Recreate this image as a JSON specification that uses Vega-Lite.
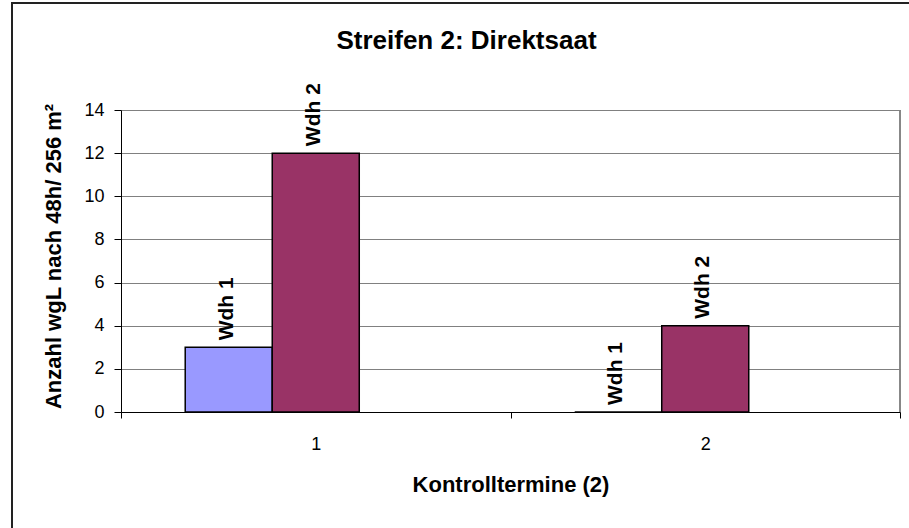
{
  "$schema": "https://vega.github.io/schema/vega-lite/v6.json",
  "width": 901,
  "height": 529,
  "padding": {"left": 12, "top": 3, "right": -4, "bottom": -4},
  "autosize": {"type": "none"},
  "background": "white",
  "title": {
    "text": "Streifen 2: Direktsaat",
    "font": "Liberation Sans",
    "fontSize": 26,
    "fontWeight": "bold",
    "color": "#000000",
    "anchor": "middle",
    "frame": "group",
    "offset": -51,
    "dx": 4
  },
  "config": {
    "view": {"stroke": "#222222", "strokeWidth": 2},
    "font": "Liberation Sans"
  },
  "data": {
    "values": [
      {"termin": "1", "wdh": "Wdh 1", "anzahl": 3},
      {"termin": "1", "wdh": "Wdh 2", "anzahl": 12},
      {"termin": "2", "wdh": "Wdh 1", "anzahl": 0},
      {"termin": "2", "wdh": "Wdh 2", "anzahl": 4}
    ]
  },
  "encoding": {
    "x": {
      "field": "termin",
      "type": "nominal",
      "scale": {"type": "band", "paddingInner": 0, "paddingOuter": 0, "range": [109, 888]},
      "axis": {
        "title": "Kontrolltermine (2)",
        "offset": -120,
        "labelAngle": 0,
        "labelFont": "Liberation Sans",
        "labelFontSize": 18,
        "labelColor": "#000000",
        "labelPadding": 17,
        "tickBand": "extent",
        "tickSize": 6,
        "tickColor": "#000000",
        "domainColor": "#000000",
        "domainWidth": 1,
        "grid": false,
        "titleFont": "Liberation Sans",
        "titleFontSize": 22,
        "titleFontWeight": "bold",
        "titleColor": "#000000",
        "titleBaseline": "top",
        "titleY": 62
      }
    },
    "y": {
      "field": "anzahl",
      "type": "quantitative",
      "scale": {"domain": [0, 14], "nice": false, "range": [409, 107]},
      "axis": {
        "title": "Anzahl wgL nach 48h/ 256 m²",
        "offset": -109,
        "values": [0, 2, 4, 6, 8, 10, 12, 14],
        "labelFont": "Liberation Sans",
        "labelFontSize": 18,
        "labelColor": "#000000",
        "labelPadding": 10,
        "tickSize": 7,
        "tickColor": "#000000",
        "domainColor": "#000000",
        "grid": true,
        "gridColor": "#808080",
        "gridWidth": 1,
        "titleFont": "Liberation Sans",
        "titleFontSize": 22,
        "titleFontWeight": "bold",
        "titleColor": "#000000",
        "titleBaseline": "alphabetic",
        "titleX": -61,
        "titleY": 253
      }
    }
  },
  "layer": [
    {
      "mark": {"type": "bar", "stroke": "#000000", "strokeWidth": 1.5},
      "encoding": {
        "xOffset": {
          "field": "wdh",
          "type": "nominal",
          "scale": {"domain": ["Wdh 1", "Wdh 2", "Wdh 3"], "paddingInner": 0, "paddingOuter": 0.738}
        },
        "color": {
          "field": "wdh",
          "type": "nominal",
          "scale": {"domain": ["Wdh 1", "Wdh 2", "Wdh 3"], "range": ["#9999FF", "#993366", "#FFFFCC"]},
          "legend": null
        }
      }
    },
    {
      "mark": {
        "type": "text",
        "angle": 270,
        "align": "left",
        "baseline": "middle",
        "dx": 7,
        "dy": -2,
        "font": "Liberation Sans",
        "fontSize": 21,
        "fontWeight": "bold",
        "color": "#000000"
      },
      "encoding": {
        "xOffset": {
          "field": "wdh",
          "type": "nominal",
          "scale": {"domain": ["Wdh 1", "Wdh 2", "Wdh 3"], "paddingInner": 0, "paddingOuter": 0.738}
        },
        "text": {"field": "wdh"}
      }
    },
    {
      "mark": {"type": "rule", "color": "#808080", "strokeWidth": 1},
      "encoding": {
        "x": {"datum": "2", "type": "nominal", "bandPosition": 1},
        "y": {"datum": 0, "type": "quantitative"},
        "y2": {"datum": 14}
      }
    }
  ]
}
